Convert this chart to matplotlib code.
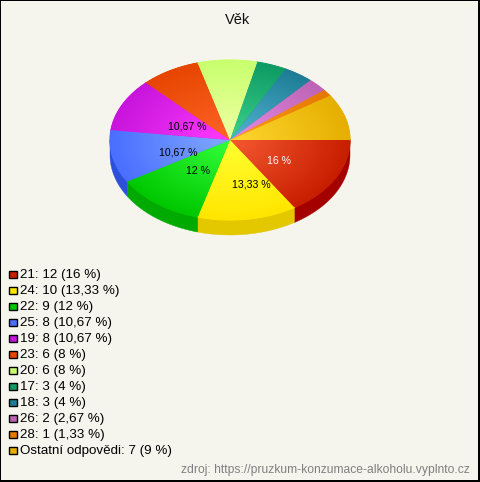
#!/usr/bin/env python3
"""Vek: 3D-look pie with legend list below."""
import numpy as np, matplotlib
matplotlib.use("Agg"); import matplotlib.pyplot as plt
from matplotlib.colors import to_rgb
from matplotlib.patches import Polygon, Rectangle

names=["21","24","22","25","19","23","20","17","18","26","28","Ostatní odpovědi"]
counts=[12,10,9,8,8,6,6,3,3,2,1,7]
pct_text=["16","13,33","12","10,67","10,67","8","8","4","4","2,67","1,33","9"]
base=["#C81E00","#FFE600","#00C800","#4A6EFF","#C814DC","#E64600","#C8FF6E","#0F9B64","#1E7D96","#BE64B4","#E67800","#E6AF00"]
light=["#F55A32","#FFFF32","#32FF3C","#82AAFF","#FF3CFF","#FF6428","#F0FFA5","#3CD28C","#55B4D2","#E68CE6","#FF9B1E","#FFD732"]
rim=["#A50000","#E3C800","#00AA00","#2D50DC","#A000B4","#BE3200","#A0D250","#0A7D50","#146478","#96508C","#BE6400","#BE8C00"]
label_pos=[(279,160,"white"),(251,184,"black"),(198,170,"black"),(178,152,"black"),(187,126,"black")]

BG="#F5F5EE"
CX,CY,RX,RY,DEPTH=230,140,120,80,15
FONT=["Liberation Sans","DejaVu Sans"]
plt.rcParams["font.family"]=FONT

fig=plt.figure(figsize=(4.8,4.82),dpi=100,facecolor=BG)
ax=fig.add_axes([0,0,1,1]); ax.set_xlim(0,480); ax.set_ylim(482,0); ax.axis("off")

vals=np.array(counts,float)
edges=np.radians(np.concatenate([[0],np.cumsum(vals)/vals.sum()*360]))  # clockwise on screen

def arc(a0,a1,dy=0):
    t=np.linspace(a0,a1,max(int(np.degrees(a1-a0)),2)+1)
    return np.c_[CX+RX*np.cos(t),CY+dy+RY*np.sin(t)]

# side wall: front half only
for i in range(len(vals)):
    a0,a1=edges[i],min(edges[i+1],np.pi)
    if a0>=np.pi: continue
    top=arc(a0,a1); bot=arc(a0,a1,DEPTH)[::-1]
    ax.add_patch(Polygon(np.r_[top,bot],closed=True,fc=rim[i],ec=rim[i],lw=0.3,zorder=1))

# top face, radial gradient per slice
xx,yy=np.meshgrid(np.linspace(CX-RX,CX+RX,240),np.linspace(CY-RY,CY+RY,160))
rad=np.clip(np.hypot((xx-CX)/RX,(yy-CY)/RY),0,1)[...,None]
for i in range(len(vals)):
    poly=Polygon(np.r_[[[CX,CY]],arc(edges[i],edges[i+1])],closed=True,fc=base[i],ec=base[i],lw=0.3,zorder=2)
    ax.add_patch(poly)
    img=np.array(to_rgb(light[i]))*(1-rad)+np.array(to_rgb(base[i]))*rad
    im=ax.imshow(img,extent=(CX-RX,CX+RX,CY+RY,CY-RY),aspect="auto",zorder=3,interpolation="bilinear")
    im.set_clip_path(poly)
    # smooth the clipped outer edge
    o=arc(edges[i],edges[i+1]); ax.plot(o[:,0],o[:,1],color=base[i],lw=0.8,zorder=4)
ax.set_xlim(0,480); ax.set_ylim(482,0)

for (x,y,c),p in zip(label_pos,pct_text):
    ax.text(x,y+0.5,p+" %",color=c,fontsize=7.6,ha="center",va="center",zorder=5)

ax.text(238,20,"Věk",fontsize=10.5,ha="center",va="center",color="#111111")

# legend list
for i,(n,c,p) in enumerate(zip(names,counts,pct_text)):
    y=274.3+16*i
    ax.add_patch(Rectangle((9.2,y-3.7),7.3,7.5,fc=base[i],ec="black",lw=1,zorder=4))
    ax.text(20,y+0.8,f"{n}: {c} ({p} %)",fontsize=9.6,va="center",ha="left",color="black")

ax.text(470,470,"zdroj: https://pruzkum-konzumace-alkoholu.vyplnto.cz",fontsize=8.7,ha="right",va="center",color="#808080")

# frame: 1px top/left, 2px right/bottom
for r in [(0,0,480,1),(0,0,1,482),(478,0,2,482),(0,480,480,2)]:
    ax.add_patch(Rectangle(r[:2],r[2],r[3],fc="black",ec="none",zorder=6))
fig.savefig("out.png",dpi=100,facecolor=BG)
